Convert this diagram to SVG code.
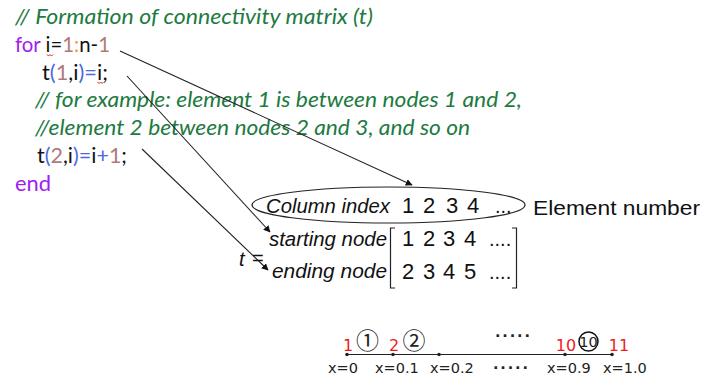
<svg xmlns="http://www.w3.org/2000/svg" width="704" height="379" viewBox="0 0 704 379">
<defs>
<marker id="ah" viewBox="0 0 10 10" refX="9" refY="5" markerWidth="7" markerHeight="7" markerUnits="userSpaceOnUse" orient="auto">
<path d="M0,0 L10,5 L0,10 z" fill="#111"/>
</marker>
<style>
.code{font-family:Lato,"Open Sans","Liberation Sans",sans-serif;font-size:21.5px;fill:#111}
.cm{font-style:italic;fill:#217a3f}
.kw{fill:#a020f0}
.nm{fill:#b07a78}
.pr{fill:#4a68e0}
.co{fill:#f0a020}
.sq{fill:none;stroke:#e02020;stroke-width:1}
.ar{font-family:"Liberation Sans",Arial,sans-serif;font-size:20px;fill:#111}
.it{font-style:italic}
.dg{font-family:"Liberation Sans",Arial,sans-serif;font-size:22px;fill:#111;text-anchor:middle}
.ln{stroke:#222;stroke-width:1.2;fill:none}
.vd{font-family:"DejaVu Sans",Verdana,sans-serif;font-size:14.5px;fill:#222}
.rd{font-family:"DejaVu Sans",Verdana,sans-serif;font-size:16px;fill:#ee1c1c;text-anchor:middle}
.cn{font-family:"Noto Sans CJK JP","DejaVu Sans",sans-serif;font-size:23px;fill:#222;text-anchor:middle}
.conn{stroke:#222;stroke-width:1.1;fill:none;marker-end:url(#ah)}
</style>
</defs>
<rect width="704" height="379" fill="#fff"/>
<g id="code">
<text class="code cm" x="15" y="24" textLength="358" lengthAdjust="spacingAndGlyphs">// Formation of connectivity matrix (t)</text>
<text class="code" x="15" y="52" textLength="95" lengthAdjust="spacingAndGlyphs"><tspan class="kw">for</tspan> i=<tspan class="nm">1</tspan><tspan class="co">:</tspan>n-<tspan class="nm">1</tspan></text>
<path class="sq" d="M47,54.5 l1.5,1.5 l1.5,-1.5 l1.5,1.5 l1.5,-1.5"/>
<text class="code" x="42" y="79.5" textLength="66" lengthAdjust="spacingAndGlyphs">t<tspan class="pr">(</tspan><tspan class="nm">1</tspan>,i<tspan class="pr">)=</tspan>i;</text>
<path class="sq" d="M97.5,82 l1.5,1.5 l1.5,-1.5 l1.5,1.5 l1.5,-1.5"/>
<text class="code cm" x="35" y="107" textLength="487" lengthAdjust="spacingAndGlyphs">// for example: element 1 is between nodes 1 and 2,</text>
<text class="code cm" x="35" y="135" textLength="435" lengthAdjust="spacingAndGlyphs">//element 2 between nodes 2 and 3, and so on</text>
<text class="code" x="37" y="163" textLength="90" lengthAdjust="spacingAndGlyphs">t<tspan class="pr">(</tspan><tspan class="nm">2</tspan>,i<tspan class="pr">)=</tspan>i<tspan class="pr">+</tspan><tspan class="nm">1</tspan>;</text>
<text class="code kw" x="15" y="190.5" textLength="36" lengthAdjust="spacingAndGlyphs">end</text>
</g>
<g id="column-index">
<ellipse class="ln" cx="388.5" cy="205" rx="136.5" ry="18" stroke-width="1.4"/>
<text class="ar it" x="266" y="213" textLength="124" lengthAdjust="spacingAndGlyphs">Column index</text>
<text class="dg" x="408" y="213">1</text>
<text class="dg" x="429" y="213">2</text>
<text class="dg" x="452" y="213">3</text>
<text class="dg" x="473" y="213">4</text>
<text class="ar" x="495" y="213">...</text>
</g>
<g id="element-number">
<text class="ar" x="533" y="215" font-size="21" textLength="167" lengthAdjust="spacingAndGlyphs">Element number</text>
</g>
<g id="matrix">
<text class="ar it" x="239" y="266" font-size="22">t</text>
<text class="ar" x="252" y="265">=</text>
<text class="ar it" x="269" y="246" textLength="118" lengthAdjust="spacingAndGlyphs">starting node</text>
<text class="ar it" x="272" y="278" textLength="115" lengthAdjust="spacingAndGlyphs">ending node</text>
<path class="ln" d="M395,228 H390.5 V288 H395"/>
<path class="ln" d="M512,228 H516.5 V288 H512"/>
<text class="dg" x="408" y="246">1</text>
<text class="dg" x="429" y="246">2</text>
<text class="dg" x="449" y="246">3</text>
<text class="dg" x="470" y="246">4</text>
<text class="ar" x="489" y="246">....</text>
<text class="dg" x="408" y="279">2</text>
<text class="dg" x="429" y="279">3</text>
<text class="dg" x="449" y="279">4</text>
<text class="dg" x="470" y="279">5</text>
<text class="ar" x="489" y="279">....</text>
</g>
<g id="number-line">
<path class="ln" d="M347,354.5 H612"/>
<circle cx="347" cy="354.5" r="1.8" fill="#222"/>
<circle cx="393" cy="354.5" r="1.8" fill="#222"/>
<circle cx="439" cy="354.5" r="1.8" fill="#222"/>
<circle cx="565" cy="354.5" r="1.8" fill="#222"/>
<circle cx="612" cy="354.5" r="1.8" fill="#222"/>
<text class="rd" x="348" y="350.5">1</text>
<text class="rd" x="394" y="350.5">2</text>
<text class="rd" x="566" y="350.5">10</text>
<text class="rd" x="619" y="350.5">11</text>
<text class="cn" x="367.5" y="349">①</text>
<text class="cn" x="414" y="348.5">②</text>
<circle cx="588.5" cy="341.5" r="9.5" fill="none" stroke="#111" stroke-width="1.5"/>
<text class="vd" x="588.5" y="346.5" font-size="14" text-anchor="middle" fill="#111">10</text>
<text class="vd" x="495" y="341" font-weight="bold" textLength="35" lengthAdjust="spacing">·····</text>
<text class="vd" x="328" y="373">x=0</text>
<text class="vd" x="375" y="373">x=0.1</text>
<text class="vd" x="430" y="373">x=0.2</text>
<text class="vd" x="493" y="373" font-weight="bold" textLength="35" lengthAdjust="spacing">·····</text>
<text class="vd" x="547" y="373">x=0.9</text>
<text class="vd" x="603" y="373">x=1.0</text>
</g>
<g id="connectors">
<path class="conn" d="M120,51 L412,185"/>
<path class="conn" d="M127,76 L270,232"/>
<path class="conn" d="M142,149 L268,270"/>
</g>
</svg>
